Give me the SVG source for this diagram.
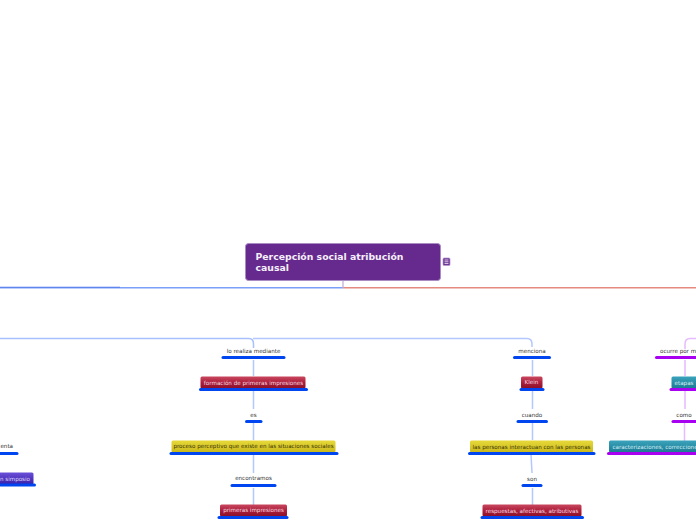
<svg xmlns="http://www.w3.org/2000/svg" width="696" height="520" viewBox="0 0 696 520">
<defs>
<linearGradient id="red" x1="0" y1="0" x2="0" y2="1"><stop offset="0" stop-color="#c9485f"/><stop offset="0.5" stop-color="#ad1f3c"/><stop offset="1" stop-color="#8a1028"/></linearGradient>
<linearGradient id="yel" x1="0" y1="0" x2="0" y2="1"><stop offset="0" stop-color="#e8d93a"/><stop offset="1" stop-color="#c9b81c"/></linearGradient>
<linearGradient id="teal" x1="0" y1="0" x2="0" y2="1"><stop offset="0" stop-color="#3aa3bb"/><stop offset="1" stop-color="#1b7a94"/></linearGradient>
<linearGradient id="vio" x1="0" y1="0" x2="0" y2="1"><stop offset="0" stop-color="#6a4fd8"/><stop offset="1" stop-color="#3a1fa8"/></linearGradient>
</defs>
<style>
text{font-family:"DejaVu Sans",Verdana,sans-serif;font-size:5.6px;text-anchor:middle}
.k{fill:#333}.w{fill:#f3dbe0}.d{fill:#3a3408}.t{fill:#d5eef4}
.u{stroke:#0046f0;stroke-width:3;stroke-linecap:round;fill:none}
.p{stroke:#a800f0;stroke-width:3;stroke-linecap:round;fill:none}
.l{stroke:#b4c8ff;stroke-width:1.5;fill:none}
.m{stroke:#e6bcff;stroke-width:1.5;fill:none}
.b{stroke:#fff;stroke-opacity:.35;stroke-width:1}
</style>
<g id="connectors">
<path d="M0 287.8H343" stroke="#7ba0f8" stroke-width="1.5" fill="none"/>
<path d="M0 287.2H120" stroke="#4a70e8" stroke-width=".8" fill="none"/>
<path d="M343 287.8H696" stroke="#e58a80" stroke-width="1.5" fill="none"/>
<path d="M343 280V288" stroke="#c0a8d8" stroke-width="1.2" fill="none"/>
<path d="M0 338.5H249Q253.5 338.5 253.5 344V348" stroke="#a8c0ff" stroke-width="1.5" fill="none"/>
<path class="l" d="M253 338.5H527Q532 338.5 532 344V347"/>
<path class="l" d="M253.500 360V376M253.500 390V409M253.500 423V440M253.500 454V473M253.500 488V505"/>
<path class="l" d="M532.500 360V376M532.500 390V409M532.500 423V440M531 454L532 473M532.500 488V505"/>
<path class="m" d="M696 338.500H690Q685 338.500 685 344V349M685 360V376M685 390V409M684.500 423V441"/>
</g>
<g id="root"><rect x="245.500" y="243.500" width="195" height="37" rx="3" fill="#662a8e" stroke="#a98cc4" stroke-width="1"/>
<text x="255.500" y="260" style="font-size:9.300px;font-weight:700;text-anchor:start;fill:#f6f0fa">Percepción social  atribución</text>
<text x="255.500" y="271" style="font-size:9.300px;font-weight:700;text-anchor:start;fill:#f6f0fa">causal</text></g>
<g id="note"><rect x="443" y="258" width="7" height="7.500" rx="1" fill="#662a8e" stroke="#b89cd0" stroke-width=".8"/><path d="M444.500 260H448.500M444.500 261.800H448.500M444.500 263.600H448.500" stroke="#fff" stroke-width=".8"/></g>

<g id="n1"><text class="k" x="253.500" y="352.500">lo realiza mediante</text><path class="u" d="M223 357.500H284"/></g>
<g id="n2"><rect x="200.500" y="376.500" width="105" height="12" rx="1.500" fill="url(#red)"/><text class="w" x="253.500" y="384.500">formación de primeras impresiones</text><path class="u" d="M200.500 389.500H306.500"/></g>
<g id="n3"><text class="k" x="253.500" y="416.500">es</text><path class="u" d="M246.500 421.500H261"/></g>
<g id="n4"><rect x="171.500" y="440.500" width="164" height="12" rx="1.500" fill="url(#yel)"/><text class="d" x="253.500" y="448">proceso perceptivo que existe en las situaciones sociales</text><path class="u" d="M171 453.500H337"/></g>
<g id="n5"><text class="k" x="253.500" y="480">encontramos</text><path class="u" d="M232 485.500H275"/></g>
<g id="n6"><rect x="220" y="504.500" width="67" height="12" rx="1.500" fill="url(#red)"/><text class="w" x="253.500" y="512">primeras impresiones</text><path class="u" d="M219 517.500H287"/></g>

<g id="n7"><text class="k" x="532" y="352.500">menciona</text><path class="u" d="M514.500 357.500H549.500"/></g>
<g id="n8"><rect x="521" y="376.500" width="21.500" height="12" rx="1.500" fill="url(#red)"/><text class="w" x="531.500" y="384">Klein</text><path class="u" d="M521 389.500H543"/></g>
<g id="n9"><text class="k" x="532" y="416.500">cuando</text><path class="u" d="M518 421.500H546.500"/></g>
<g id="n10"><rect x="470" y="440.500" width="123" height="12" rx="1.500" fill="url(#yel)"/><text class="d" x="531.500" y="448.500">las personas interactuan con las personas</text><path class="u" d="M469.500 453.500H594"/></g>
<g id="n11"><text class="k" x="532" y="480.500">son</text><path class="u" d="M523 485.500H541"/></g>
<g id="n12"><rect x="482.500" y="504.500" width="99" height="12" rx="1.500" fill="url(#red)"/><text class="w" x="532" y="512.500">respuestas, afectivas, atributivas</text><path class="u" d="M482 517.500H582.500"/></g>

<g id="n13"><text class="k" x="660" y="352.500" style="text-anchor:start">ocurre por m</text><path class="p" d="M656.500 357.500H696"/></g>
<g id="n14"><rect x="671.500" y="376.500" width="30" height="12" rx="1.500" fill="url(#teal)"/><text class="t" x="684" y="384.500">etapas</text><path class="p" d="M671 389.500H696"/></g>
<g id="n15"><text class="k" x="684" y="416.500">como</text><path class="p" d="M673 421.500H696"/></g>
<g id="n16"><rect x="609" y="440.500" width="95" height="12" rx="1.500" fill="url(#teal)"/><text class="t" x="612.500" y="448.500" style="text-anchor:start">caracterizaciones, correcciones</text><path class="p" d="M608.500 453.500H696"/></g>

<g id="n17"><text class="k" x="13" y="447.500" style="text-anchor:end">enta</text><path class="u" d="M0 453.500H17"/></g>
<g id="n18"><rect x="-40" y="472.500" width="73.500" height="12" rx="1.500" fill="url(#vio)"/><text x="30" y="480.500" style="text-anchor:end;fill:#ddd6ff">n simposio</text><path class="u" d="M0 485H34.500"/></g>
</svg>
